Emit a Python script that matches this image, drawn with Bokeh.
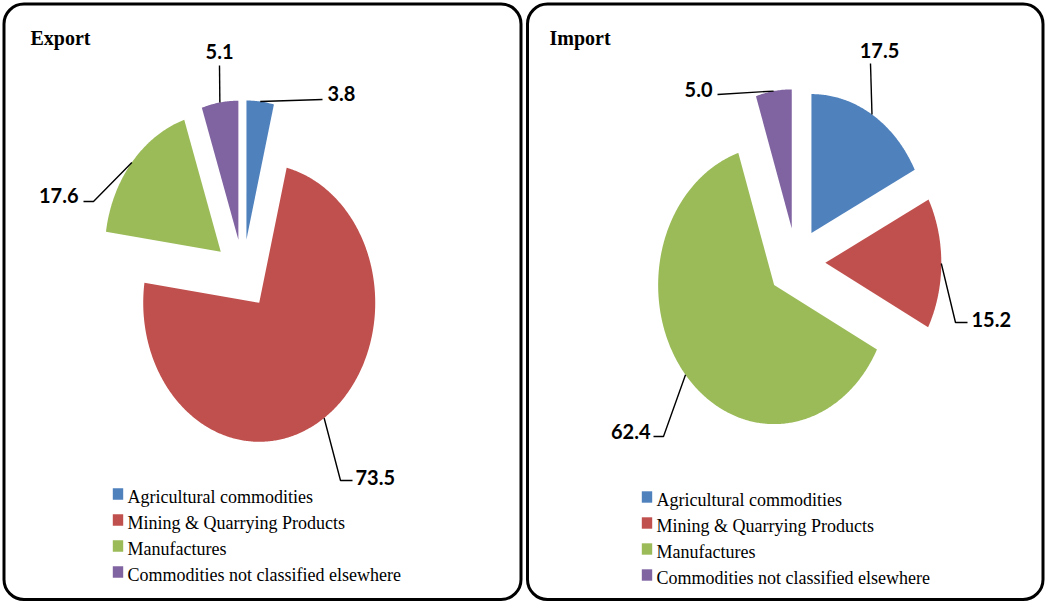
import numpy as np
from bokeh.plotting import figure
from bokeh.models import Range1d, BoxAnnotation, ColumnDataSource
from bokeh.core.properties import value
from bokeh.embed import file_html
from bokeh.resources import INLINE

# --- data -------------------------------------------------------------
categories = [
    "Agricultural commodities",
    "Mining & Quarrying Products",
    "Manufactures",
    "Commodities not classified elsewhere",
]
export_share = [3.8, 73.5, 17.6, 5.1]
import_share = [17.5, 15.2, 62.4, 5.0]

# --- style ------------------------------------------------------------
colors = ["#4F81BD", "#C0504D", "#9BBB59", "#8064A2"]
W, H = 1046, 602
RX, RY = 116, 139          # pie radii in pixels (slightly tall ellipse)
EXPLODE = 0.25             # every slice pulled out by a quarter radius
LABEL_FONT = value("Lato")
SERIF = value("Liberation Serif")
LEGEND_PITCH = 26

# label placement: leader-line waypoints after the slice tip, text anchor
export_labels = [
    dict(path=[(322, 99)], x=327, y=93, align="left"),
    dict(path=[(340, 480), (352, 480)], x=355, y=477, align="left"),
    dict(path=[(93, 201), (83, 201)], x=78, y=195, align="right"),
    dict(path=[(219, 65)], x=219, y=51, align="center"),
]
import_labels = [
    dict(path=[(870, 63)], x=879, y=50, align="center"),
    dict(path=[(955, 322), (967, 322)], x=971, y=319, align="left"),
    dict(path=[(663, 436), (653, 436)], x=650, y=431, align="right"),
    dict(path=[(717, 94)], x=712, y=89, align="right"),
]

p = figure(width=W, height=H, x_range=Range1d(0, W), y_range=Range1d(H, 0),
           output_backend="svg", toolbar_location=None,
           x_axis_location=None, y_axis_location=None,
           min_border=0, outline_line_color=None,
           background_fill_color="white", border_fill_color="white")
p.grid.visible = False


def pie_geometry(values, cx, cy):
    vals = np.asarray(values, dtype=float)
    ang = np.cumsum(np.r_[0.0, vals]) / vals.sum() * 2 * np.pi  # clockwise from 12 o'clock
    xs, ys, tips = [], [], []
    for a0, a1 in zip(ang[:-1], ang[1:]):
        mid = 0.5 * (a0 + a1)
        ox = cx + EXPLODE * RX * np.sin(mid)
        oy = cy - EXPLODE * RY * np.cos(mid)
        t = np.linspace(a0, a1, max(8, int((a1 - a0) / 0.01)))
        xs.append(np.r_[ox, ox + RX * np.sin(t)].tolist())
        ys.append(np.r_[oy, oy - RY * np.cos(t)].tolist())
        tips.append((ox + RX * np.sin(mid), oy - RY * np.cos(mid)))
    return xs, ys, tips


def draw_pie(values, cx, cy, labels, title, title_x, key_x, key_y):
    xs, ys, tips = pie_geometry(values, cx, cy)
    src = ColumnDataSource(dict(xs=xs, ys=ys, color=colors, name=categories))
    p.patches("xs", "ys", source=src, fill_color="color", line_color=None)

    # leader lines from the middle of each slice's rim to its label
    lx, ly = [], []
    for (tx, ty), lab in zip(tips, labels):
        pts = [(tx, ty)] + lab["path"]
        lx.append([q[0] for q in pts])
        ly.append([q[1] for q in pts])
    p.multi_line(lx, ly, line_color="black", line_width=1.4)

    for v, lab in zip(values, labels):
        p.text(x=[lab["x"]], y=[lab["y"]], text=[f"{v:.1f}"],
               text_font=LABEL_FONT, text_font_style="bold",
               text_font_size="20px", text_color="black",
               text_align=lab["align"], text_baseline="alphabetic")

    p.text(x=[title_x], y=[37], text=[title], text_font=SERIF,
           text_font_style="bold", text_font_size="20px",
           text_color="black", text_baseline="alphabetic")

    # key: coloured squares with category names
    rows = [key_y + LEGEND_PITCH * i for i in range(len(categories))]
    key = ColumnDataSource(dict(x=[key_x] * len(categories), y=rows,
                                tx=[key_x + 9.5] * len(categories),
                                ty=[r + 3 for r in rows],
                                color=colors, name=categories))
    p.rect("x", "y", width=10.4, height=11.4, source=key,
           fill_color="color", line_color=None)
    p.text("tx", "ty", text="name", source=key, text_font=SERIF,
           text_font_size="18px", text_color="black",
           text_baseline="middle", text_align="left")


draw_pie(export_share, 242.5, 273.5, export_labels, "Export", 30, 117.5, 493.5)
draw_pie(import_share, 795.8, 262.2, import_labels, "Import", 549, 646.5, 496.5)

# rounded panel frames
for left, right in [(3.5, 520.5), (527.0, 1042.5)]:
    p.add_layout(BoxAnnotation(left=left, right=right, top=3.5, bottom=599.0,
                               fill_alpha=0, line_color="black", line_alpha=1.0,
                               line_width=3, border_radius=20))

open("out.html", "w").write(file_html(p, INLINE))
